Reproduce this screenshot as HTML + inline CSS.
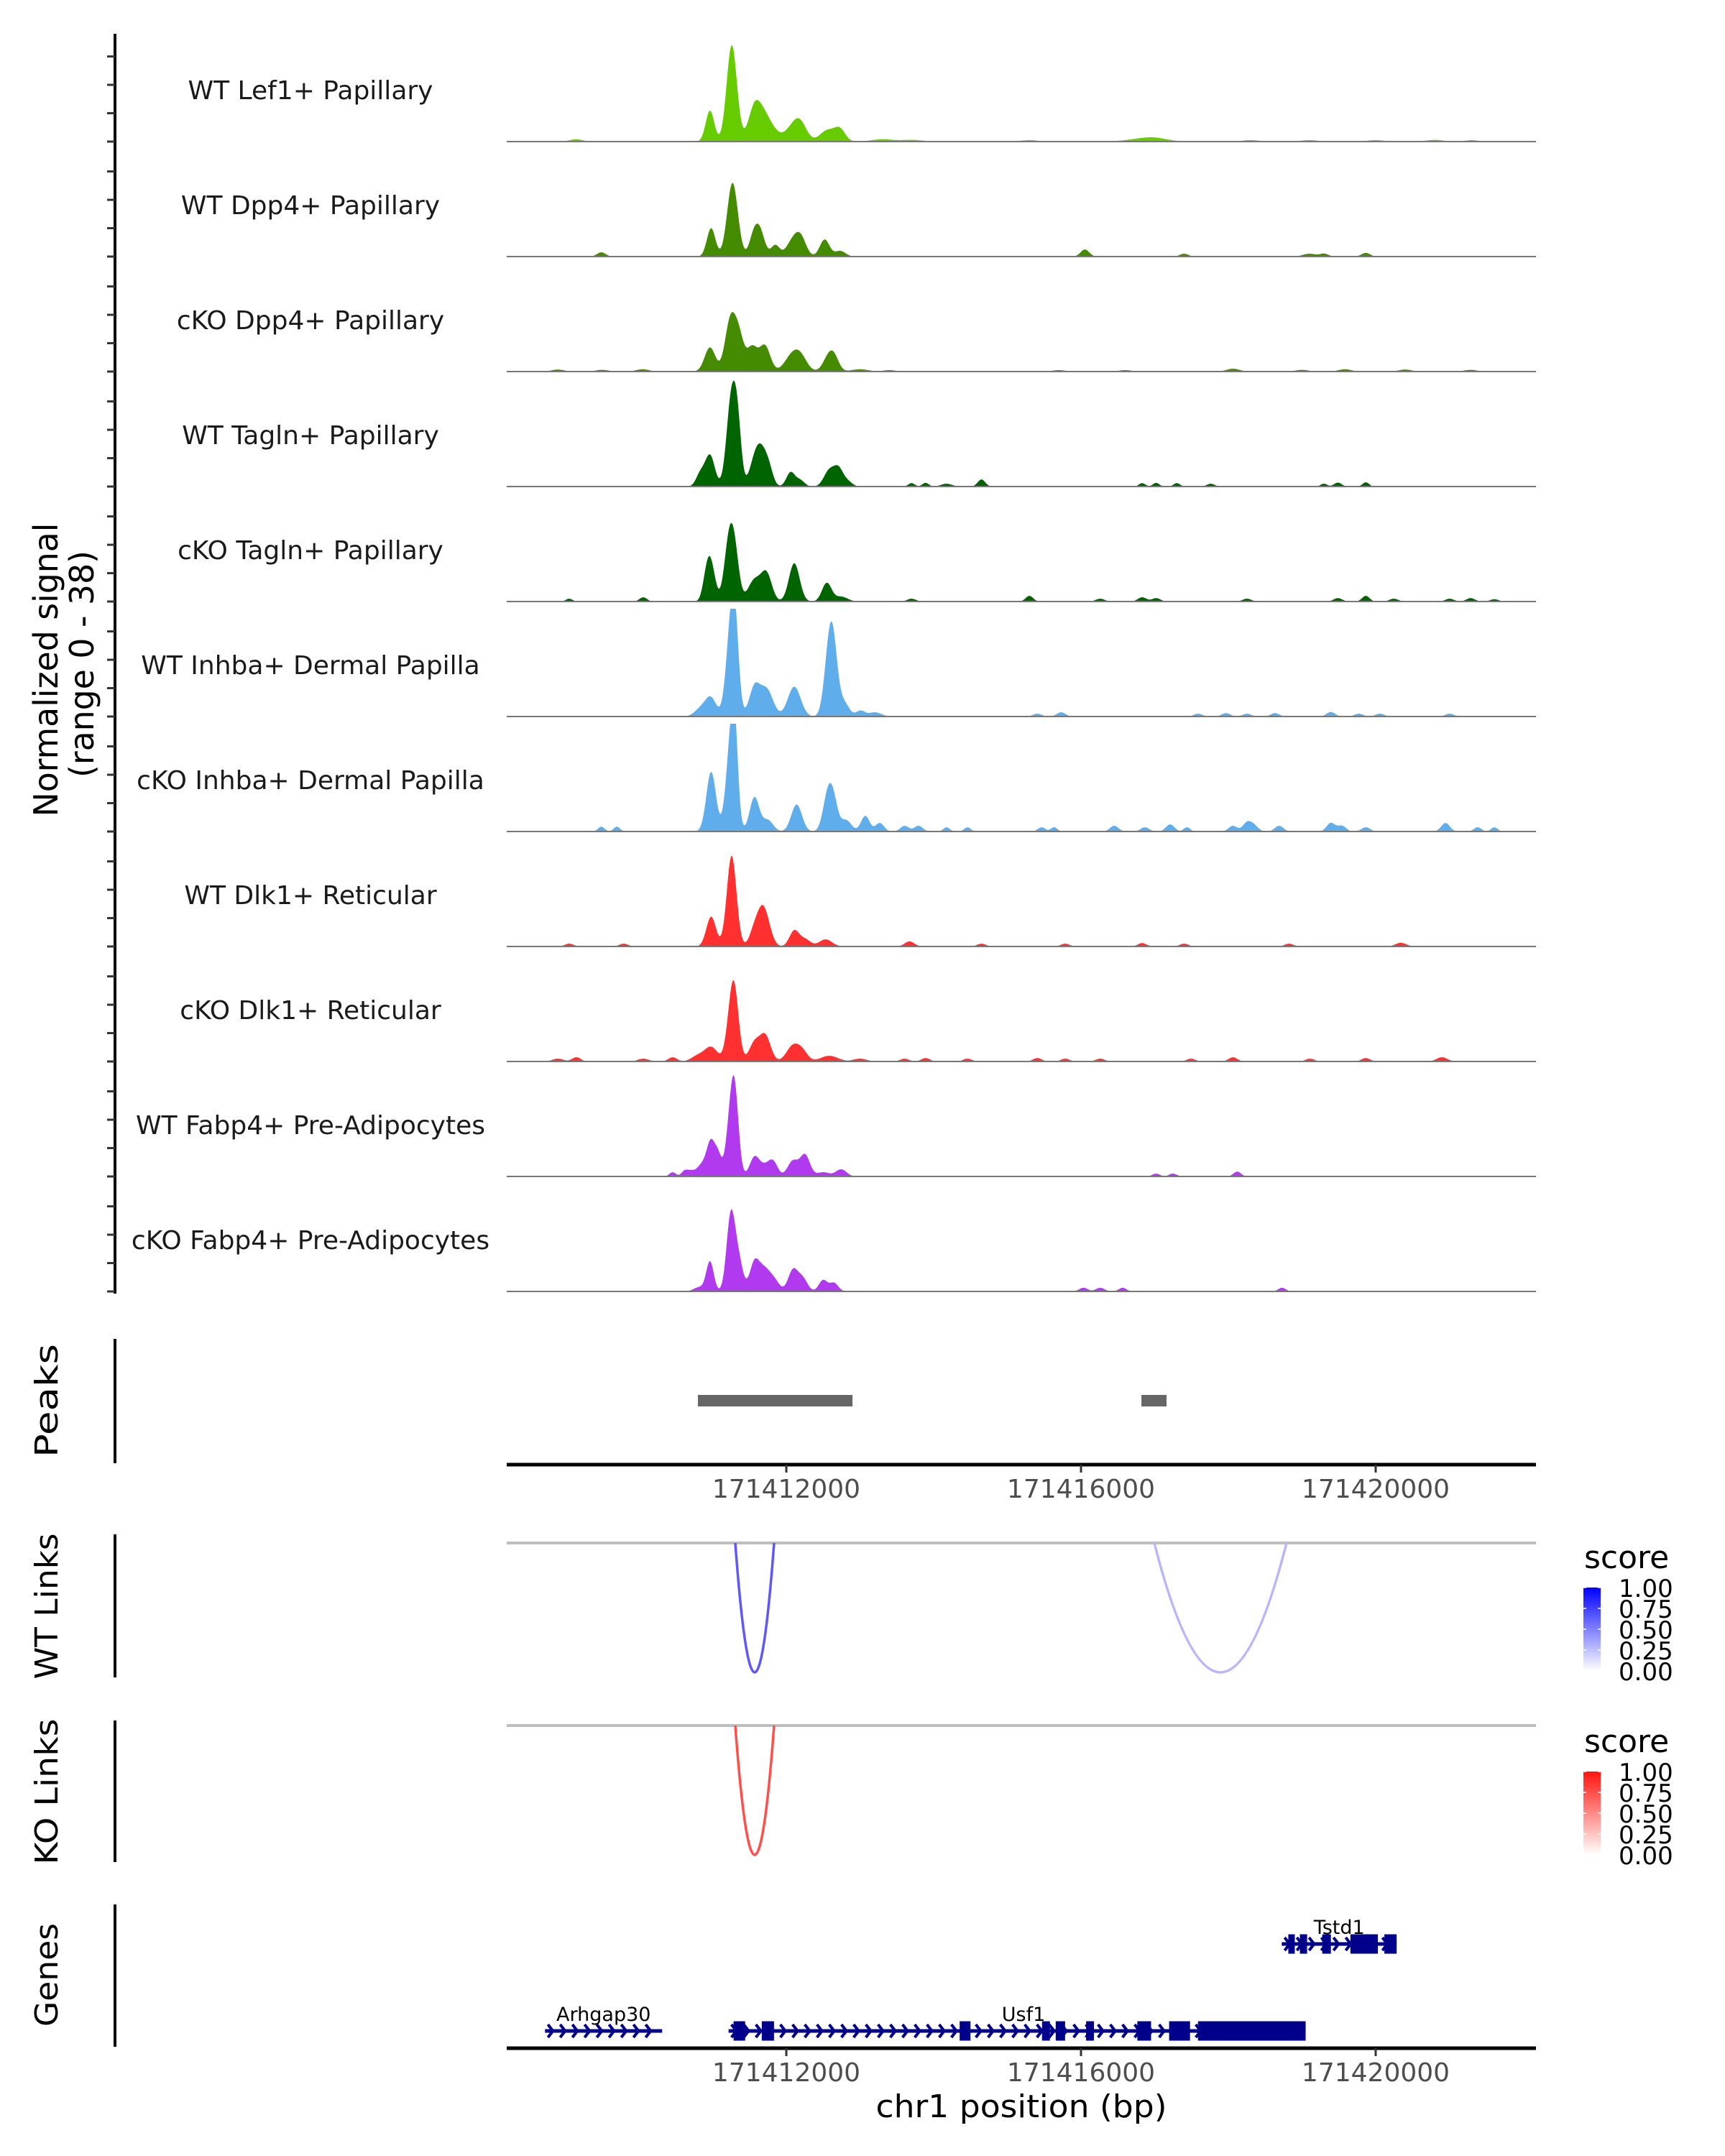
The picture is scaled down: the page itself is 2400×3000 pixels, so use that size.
<!DOCTYPE html>
<html><head><meta charset="utf-8">
<style>
html,body{margin:0;padding:0;background:#fff;}
svg{display:block;font-family:"DejaVu Sans","Liberation Sans",sans-serif;}
</style></head>
<body>
<svg id="fig" width="2400" height="3000" viewBox="0 0 2400 3000" xmlns="http://www.w3.org/2000/svg">
<g id="tracks"></g>
<g id="panels"></g>
</svg>
<script>
// ---------- data ----------
const chromStart = 171412000; // offsets below are relative to this
const xTicks = [171412000, 171416000, 171420000];
const trackNames = ["WT Lef1+ Papillary","WT Dpp4+ Papillary","cKO Dpp4+ Papillary","WT Tagln+ Papillary","cKO Tagln+ Papillary","WT Inhba+ Dermal Papilla","cKO Inhba+ Dermal Papilla","WT Dlk1+ Reticular","cKO Dlk1+ Reticular","WT Fabp4+ Pre-Adipocytes","cKO Fabp4+ Pre-Adipocytes"];
const trackColors = ["#66cc00","#458b00","#458b00","#006400","#006400","#5fadea","#5fadea","#ff3030","#ff3030","#b23aee","#b23aee"];
// peaks: [bp offset, signal height, width(bp)]
const sigLef1WT = [[-1036,10.9,40],[-740,34,48],[-420,13.5,60],[-280,6,50],[-170,3,50],[80,4.5,80],[190,5,60],[560,4,70],[729,4,50],[-2853,0.8,60],[1300,0.8,100],[1700,0.6,100],[3300,0.5,80],[4800,0.7,150],[5000,1,120],[6300,0.5,80],[7100,0.5,80],[8000,0.5,80],[8800,0.6,80],[9300,0.5,60]];
const sigDpp4WT = [[-1020,10,40],[-730,26,50],[-450,6,40],[-360,9,45],[-150,4,40],[90,5.5,60],[200,5.5,50],[520,6,45],[730,2,50],[-2511,1.5,40],[4053,2.5,40],[5400,1,40],[7100,1,60],[7300,1,40],[7866,1.3,40]];
const sigDpp4KO = [[-1036,8.5,50],[-758,18,50],[-640,11,45],[-464,8.5,50],[-290,9,50],[80,5.5,70],[200,4,60],[565,4.5,50],[650,4.5,45],[-3100,0.7,60],[-2500,0.6,60],[-1950,0.8,60],[1000,0.8,80],[1400,0.5,60],[3700,0.5,60],[4600,0.5,60],[6063,1,60],[7000,0.6,60],[7582,0.8,60],[8400,0.7,60],[9289,0.6,60]];
const sigTaglnWT = [[-1167,4.4,40],[-1036,11,45],[-745,31,45],[-660,17,35],[-432,8,50],[-334,10.5,50],[-235,5,40],[59,5,40],[189,2.2,40],[582,5.5,50],[712,6,45],[843,1.5,40],[1700,1.2,30],[1890,1.3,30],[2175,1,50],[2649,2.5,35],[4830,1.2,30],[5020,1.3,30],[5300,1.2,30],[5760,1,35],[7297,1,30],[7487,1.4,35],[7866,1.5,30]];
const sigTaglnKO = [[-1085,7,35],[-1020,12,40],[-775,21.5,45],[-693,12.5,40],[-432,7.5,60],[-268,9.5,50],[108,13.5,50],[549,6.5,45],[745,1.7,60],[-2947,1,30],[-1942,1.5,35],[1700,1,40],[3300,2,35],[4261,1,40],[4830,1.5,40],[5020,1.2,40],[6253,1,40],[7487,1.2,40],[7866,2,35],[8246,1,40],[9004,1,40],[9289,1.2,40],[9611,0.8,40]];
const sigInhbaWT = [[-1150,3,60],[-1020,6,50],[-752,30,45],[-693,21,35],[-432,10,50],[-268,9.5,60],[108,10.5,60],[582,23,45],[647,15,40],[778,5,50],[1006,2,40],[1200,1.5,60],[3408,1,40],[3730,1.5,40],[5589,1,40],[5969,1.2,40],[6253,1,40],[6633,1.2,40],[7392,1.6,40],[7771,1,40],[8056,1,40],[9004,1,40]];
const sigInhbaKO = [[-1020,21,45],[-752,31,45],[-700,22,30],[-432,12,45],[-252,4,50],[140,9.5,50],[565,13,45],[647,8,40],[810,4,50],[1072,5.5,40],[1268,3,40],[-2511,1.7,30],[-2300,1.7,30],[1606,2,40],[1795,2,40],[2175,1.5,30],[2459,1.5,30],[3465,1.5,35],[3635,1.5,30],[4451,2,40],[4868,1.5,40],[5210,2.5,40],[5438,1.5,30],[6063,2,40],[6253,3,40],[6348,2,40],[6690,2,40],[7392,3,40],[7540,2,40],[7866,1.5,40],[8948,3,40],[9384,1.5,35],[9611,1.5,30]];
const sigDlk1WT = [[-1020,10.5,45],[-742,32,45],[-432,6,45],[-334,8,45],[-268,7,50],[108,5.5,45],[255,2.5,50],[533,2.5,60],[-2947,1,40],[-2208,1,40],[1644,1,40],[1700,1,40],[2649,1,40],[3787,1,40],[4830,1.2,40],[5400,1,40],[6823,1,40],[8341,1.3,50]];
const sigDlk1KO = [[-1200,2,60],[-1020,5,60],[-742,18,45],[-693,13,40],[-432,6.5,50],[-285,9,50],[91,5.5,60],[222,3,50],[582,2,80],[1000,1,60],[-3100,1,50],[-2850,1.5,40],[-1942,1,50],[-1543,1.5,40],[1606,1,40],[1890,1.2,40],[2459,1,40],[3408,1.2,40],[3787,1,40],[4261,1,40],[5494,1,40],[6063,1.5,40],[7107,1,40],[7866,1.2,40],[8900,1.5,50]];
const sigFabp4WT = [[-1379,2,30],[-1150,4,50],[-1020,12,40],[-922,6,30],[-742,24,45],[-693,15,35],[-432,6.5,45],[-268,4,60],[-170,3.5,40],[91,5.5,50],[255,7.5,45],[500,1.5,60],[745,2.5,50],[-1543,1.5,30],[-1297,1.5,30],[5020,1,35],[5248,1,35],[6120,1.7,35]];
const sigFabp4KO = [[-1183,1.5,50],[-1036,10.5,35],[-752,27,40],[-644,10,40],[-432,10,45],[-301,7,50],[-170,4,50],[91,7.5,45],[222,4.5,45],[500,4,40],[647,3,40],[4034,1.3,40],[4261,1.3,40],[4565,1.3,35],[6728,1.3,35]];
const trackSignals = [sigLef1WT,sigDpp4WT,sigDpp4KO,sigTaglnWT,sigTaglnKO,sigInhbaWT,sigInhbaKO,sigDlk1WT,sigDlk1KO,sigFabp4WT,sigFabp4KO];
const peakStarts = [-1200, 4820];
const peakEnds = [898, 5161];
const wtLinkStarts = [-693, 4995];
const wtLinkEnds = [-166, 6790];
const wtLinkScores = [0.8, 0.35];
const koLinkStarts = [-693];
const koLinkEnds = [-166];
const koLinkScores = [0.75];
const legendTicks = ["1.00","0.75","0.50","0.25","0.00"];
const geneNames = ["Arhgap30","Usf1","Tstd1"];
const geneStarts = [-3275, -784, 6725];
const geneEnds = [-1686, 7049, 8284];
const geneRows = [1, 1, 0];
const usf1Exons = [[-716,-559],[-333,-167],[2353,2500],[3471,3578],[3657,3784],[4069,4176],[4765,4951],[5196,5480],[5588,7049]];
const tstd1Exons = [[6814,6902],[6971,7069],[7275,7392],[7657,8029],[8118,8284]];
const arhgapExons = [];
const geneExons = [arhgapExons, usf1Exons, tstd1Exons];

// ---------- scales ----------
const NS="http://www.w3.org/2000/svg";
const X0=705, X1=2137, PXBP=0.1025, ORIGIN=1094;
const WSCALE=1.45;
const xs = off => ORIGIN + off*PXBP;
const bpOf = x => (x-ORIGIN)/PXBP;
const YMAX=38, TH=150, BASE0=197, STEP=160;
const ys = (i,v) => BASE0 + i*STEP - Math.min(v,YMAX)*TH/YMAX;
function mk(tag, attrs, parent){const e=document.createElementNS(NS,tag);for(const k in attrs)e.setAttribute(k,attrs[k]);parent.appendChild(e);return e;}
const tracksG=document.getElementById('tracks');
const panelsG=document.getElementById('panels');

let ax=mk('line',{x1:160,y1:47,x2:160,y2:1800,stroke:'#000','stroke-width':4},tracksG);


for(let i=0;i<trackNames.length;i++){
  for(let v=0;v<=30;v+=10){
    const y=ys(i,v);
    const t=mk('line',{x1:149,y1:y,x2:160,y2:y,stroke:'#333','stroke-width':3},tracksG);
    
    
  }
}
const yt=mk('text',{transform:'translate(80,932) rotate(-90)','text-anchor':'middle','font-size':46,fill:'#000',textLength:409,lengthAdjust:'spacingAndGlyphs'},tracksG);
yt.textContent='Normalized signal';


const yt2=mk('text',{transform:'translate(130,924) rotate(-90)','text-anchor':'middle','font-size':46,fill:'#000',textLength:316,lengthAdjust:'spacingAndGlyphs'},tracksG);
yt2.textContent='(range 0 - 38)';



for(let i=0;i<trackNames.length;i++){
  const g=mk('g',{},tracksG);
  
  
  const base=BASE0+i*STEP;
  const sig=trackSignals[i];
  let d='M'+X0+','+base;
  for(let x=X0;x<=X1;x+=1){
    const bp=bpOf(x);let v=0;
    for(const p of sig){const z=(bp-p[0])/(p[2]*WSCALE);if(Math.abs(z)<5)v+=p[1]*Math.exp(-0.5*z*z);}
    d+='L'+x+','+ys(i,v).toFixed(1);
  }
  d+='L'+X1+','+base+'Z';
  const a=mk('path',{d:d,fill:trackColors[i],stroke:'none'},g);
  
  
  const bl=mk('line',{x1:X0,y1:base,x2:X1,y2:base,stroke:'#777','stroke-width':2},g);
  
  
  const lb=mk('text',{x:432,y:base-59,'text-anchor':'middle','font-size':36,fill:'#1a1a1a'},g);
  lb.textContent=trackNames[i];
  
  
}

function panelAxis(name,y1,y2,title,cy,len){
  const l=mk('line',{x1:160,y1:y1,x2:160,y2:y2,stroke:'#000','stroke-width':4},panelsG);
  
  
  const t=mk('text',{transform:'translate(80,'+cy+') rotate(-90)','text-anchor':'middle','font-size':44,fill:'#000',textLength:len,lengthAdjust:'spacingAndGlyphs'},panelsG);
  t.textContent=title;
  
  
}
function xAxis(y,name){
  const l=mk('line',{x1:X0,y1:y,x2:X1,y2:y,stroke:'#000','stroke-width':5},panelsG);
  
  
  for(const t of xTicks){
    const x=xs(t-chromStart);
    const tk=mk('line',{x1:x,y1:y,x2:x,y2:y+11,stroke:'#333','stroke-width':3},panelsG);
    
    
    const tl=mk('text',{x:x,y:y+46,'text-anchor':'middle','font-size':36,fill:'#4d4d4d'},panelsG);
    tl.textContent=String(t);
    
    
  }
}

panelAxis('peaks',1863,2036,'Peaks',1949,158);
for(let k=0;k<peakStarts.length;k++){
  const r=mk('rect',{x:xs(peakStarts[k]),y:1941,width:(peakEnds[k]-peakStarts[k])*PXBP,height:16,fill:'#666'},panelsG);
  
  
}
xAxis(2038,'peaks');

function linkPanel(name,title,topY,axY1,axY2,cy,starts,ends,scores,hue,legY){
  panelAxis(name,axY1,axY2,title,cy,203);
  const gl=mk('line',{x1:X0,y1:topY,x2:X1,y2:topY,stroke:'#bebebe','stroke-width':4},panelsG);
  
  
  const bottom=topY+180;
  const cpy=topY+(bottom-topY)*2;
  for(let k=0;k<starts.length;k++){
    const a=xs(starts[k]),b=xs(ends[k]);
    const col=hue(scores[k]);
    const p=mk('path',{d:`M${a},${topY} Q${(a+b)/2},${cpy} ${b},${topY}`,fill:'none',stroke:col,'stroke-width':3.5},panelsG);
    
    
  }
  const st=mk('text',{x:2204,y:legY,'font-size':44,fill:'#000'},panelsG);
  st.textContent='score';
  
  
  const gid='grad-'+name;
  const defs=mk('defs',{},panelsG);
  const lg=mk('linearGradient',{id:gid,x1:0,y1:1,x2:0,y2:0},defs);
  mk('stop',{offset:0,'stop-color':hue(0)},lg);
  mk('stop',{offset:0.5,'stop-color':hue(0.5)},lg);
  mk('stop',{offset:1,'stop-color':hue(1)},lg);
  const by=legY+27, bh=116;
  const cb=mk('rect',{x:2203,y:by,width:24,height:bh,fill:'url(#'+gid+')'},panelsG);
  
  
  for(let j=0;j<legendTicks.length;j++){
    const yy=by+j*bh/4;
    mk('line',{x1:2203,y1:yy,x2:2207,y2:yy,stroke:'#fff','stroke-width':1.5},panelsG);
    mk('line',{x1:2223,y1:yy,x2:2227,y2:yy,stroke:'#fff','stroke-width':1.5},panelsG);
    const lt=mk('text',{x:2252,y:yy+13,'font-size':34,fill:'#000'},panelsG);
    lt.textContent=legendTicks[j];
    
    
  }
}
const blue=s=>`rgb(${Math.round(255-s*255)},${Math.round(255-s*255)},255)`;
const blueArc=s=>`rgb(${Math.round(255-s*200)},${Math.round(255-s*210)},${Math.round(255-s*10)})`;
const red=s=>`rgb(255,${Math.round(255-s*235)},${Math.round(255-s*240)})`;
function blueHue(s){return s>=0.99||s<=0.01||s===0.5?blue(s):blueArc(s);}
linkPanel('wt-links','WT Links',2147,2135,2334,2235,wtLinkStarts,wtLinkEnds,wtLinkScores,blueHue,2182);
linkPanel('ko-links','KO Links',2401,2394,2591,2493,koLinkStarts,koLinkEnds,koLinkScores,red,2438);

panelAxis('genes',2650,2848,'Genes',2748,144);
const rowY=[2705,2826];
for(let g=0;g<geneNames.length;g++){
  const gg=mk('g',{},panelsG);
  
  
  const y=rowY[geneRows[g]];
  const a=xs(geneStarts[g]),b=xs(geneEnds[g]);
  mk('line',{x1:a,y1:y,x2:b,y2:y,stroke:'#00008b','stroke-width':5},gg);
  for(let x=a+4;x<b-6;x+=17){
    mk('path',{d:`M${x},${y-9} L${x+7},${y} L${x},${y+9}`,fill:'none',stroke:'#00008b','stroke-width':4},gg);
  }
  for(const e of geneExons[g]){
    const r=mk('rect',{x:xs(e[0]),y:y-13.5,width:Math.max(3,(e[1]-e[0])*PXBP),height:27,fill:'#00008b'},gg);
    
    
  }
  const cx=geneNames[g]==='Usf1'?xs(3220):(a+b)/2;
  const t=mk('text',{x:cx,y:y-14,'text-anchor':'middle','font-size':27,fill:'#000'},gg);
  t.textContent=geneNames[g];
  
  
}
xAxis(2850,'genes');
const xt=mk('text',{x:1421,y:2946,'text-anchor':'middle','font-size':44,fill:'#000',textLength:405,lengthAdjust:'spacingAndGlyphs'},panelsG);
xt.textContent='chr1 position (bp)';


</script>
</body></html>
